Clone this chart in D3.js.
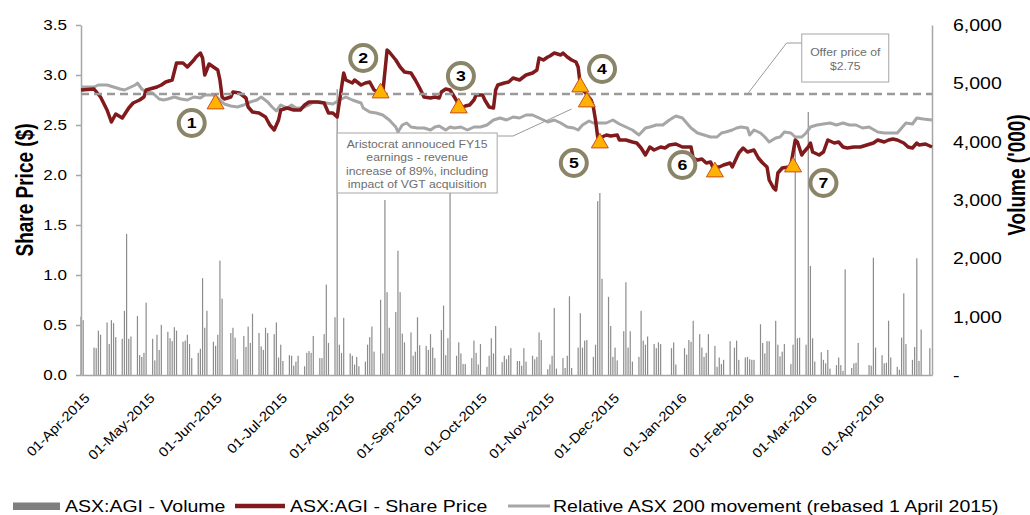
<!DOCTYPE html>
<html>
<head>
<meta charset="utf-8">
<script src="https://cdn.jsdelivr.net/npm/d3@7"></script>
<style>
  body { margin: 0; background: #fff; }
  svg text { font-family: "Liberation Sans", Arial, sans-serif; }
</style>
</head>
<body>
<svg id="chart" width="1030" height="515"></svg>
<script>
// DATA
var dateRange = ["2015-04-01", "2016-04-27"];
var monthTicks = ["2015-04-01", "2015-05-01", "2015-06-01", "2015-07-01", "2015-08-01", "2015-09-01",
  "2015-10-01", "2015-11-01", "2015-12-01", "2016-01-01", "2016-02-01", "2016-03-01", "2016-04-01"];
var priceTicks = [0, 0.5, 1.0, 1.5, 2.0, 2.5, 3.0, 3.5];
var volumeTicks = [0, 1000, 2000, 3000, 4000, 5000, 6000];
var offerPrice = 2.81; // dashed line as drawn

// volume ('000), runs of consecutive trading days: [first day, values]
var volumeRuns = [
  ["2015-04-01", [1000, 940]],
  ["2015-04-07", [470, 460, 760, 690]],
  ["2015-04-13", [900, 530, 940, 890, 650]],
  ["2015-04-20", [620, 1100, 2420, 620, 660]],
  ["2015-04-27", [1010, 340, 310, 380, 1240]],
  ["2015-05-04", [620, 250, 690, 430, 860]],
  ["2015-05-11", [740, 630, 580, 820, 760]],
  ["2015-05-18", [570, 590, 690, 530, 290]],
  ["2015-05-25", [380, 450, 1660, 810, 1100]],
  ["2015-06-01", [570, 500, 690, 1960, 1310]],
  ["2015-06-09", [720, 810, 640, 270]],
  ["2015-06-15", [670, 480, 830, 550, 1050]],
  ["2015-06-22", [720, 490, 430, 810, 720]],
  ["2015-06-29", [700, 900, 300, 520, 240]],
  ["2015-07-06", [340, 330, 160, 230, 330]],
  ["2015-07-13", [150, 380, 410, 380, 670]],
  ["2015-07-20", [290, 290, 700, 1550, 550]],
  ["2015-07-27", [990, 4900, 520, 380, 980]],
  ["2015-08-03", [370, 330, 180, 310, 150]],
  ["2015-08-10", [230, 520, 650, 830, 400]],
  ["2015-08-17", [1290, 370, 3000, 1420, 810]],
  ["2015-08-24", [1080, 2130, 1420, 710, 560]],
  ["2015-08-31", [730, 330, 400, 990, 510]],
  ["2015-09-07", [500, 430, 700, 470, 290]],
  ["2015-09-14", [770, 1190, 340, 630, 3300]],
  ["2015-09-21", [330, 560, 370, 190, 190]],
  ["2015-09-28", [290, 590, 380, 180, 530]],
  ["2015-10-05", [140, 330, 630, 370, 840]],
  ["2015-10-12", [220, 330, 270, 340, 460]],
  ["2015-10-19", [240, 240, 160, 460, 230]],
  ["2015-10-26", [330, 270, 310, 730, 600]],
  ["2015-11-02", [100, 180, 330, 1150, 110]],
  ["2015-11-09", [290, 120, 330, 1350, 120]],
  ["2015-11-16", [470, 1060, 470, 590, 600]],
  ["2015-11-23", [310, 520, 2980, 3120, 1650]],
  ["2015-11-30", [1340, 840, 310, 470, 250]],
  ["2015-12-07", [750, 1590, 470, 750, 230]],
  ["2015-12-14", [310, 1100, 590, 520, 660]],
  ["2015-12-21", [530, 460, 560, 530]],
  ["2015-12-29", [460, 560, 180]],
  ["2016-01-04", [460, 350, 600, 570, 930]],
  ["2016-01-11", [700, 470, 310, 380, 700]],
  ["2016-01-18", [500, 140, 300, 190, 260]],
  ["2016-01-25", [580]],
  ["2016-01-27", [470, 590, 260]],
  ["2016-02-01", [300, 310, 270, 260, 260]],
  ["2016-02-08", [870, 550, 370, 580, 580]],
  ["2016-02-15", [930, 520, 320, 400, 530]],
  ["2016-02-22", [190, 520, 3940, 630, 640]],
  ["2016-02-29", [520, 4510, 1870, 630, 230]],
  ["2016-03-07", [390, 260, 200, 430, 110]],
  ["2016-03-14", [170, 300, 170, 70, 1810]],
  ["2016-03-21", [120, 200, 210, 550]],
  ["2016-03-29", [170, 160, 2010, 470]],
  ["2016-04-04", [340, 200, 210, 930, 300]],
  ["2016-04-11", [140, 90, 640, 1400, 530]],
  ["2016-04-18", [260, 480, 2000, 240, 780]],
  ["2016-04-26", [460]]
];

// ASX:AGI share price ($)
var sharePrice = [
  ["2015-04-01", 2.85], ["2015-04-07", 2.86], ["2015-04-10", 2.78], ["2015-04-13", 2.65], ["2015-04-15", 2.53],
  ["2015-04-17", 2.61], ["2015-04-20", 2.57], ["2015-04-23", 2.67], ["2015-04-25", 2.72], ["2015-04-28", 2.75],
  ["2015-04-30", 2.78], ["2015-05-01", 2.85], ["2015-05-06", 2.88], ["2015-05-08", 2.90], ["2015-05-10", 2.93],
  ["2015-05-13", 2.95], ["2015-05-15", 3.12], ["2015-05-18", 3.12], ["2015-05-20", 3.08], ["2015-05-23", 3.15],
  ["2015-05-24", 3.18], ["2015-05-26", 3.22], ["2015-05-27", 3.17], ["2015-05-28", 3.00], ["2015-05-30", 3.11],
  ["2015-06-01", 3.08], ["2015-06-03", 3.05], ["2015-06-04", 2.95], ["2015-06-05", 2.78], ["2015-06-06", 2.76],
  ["2015-06-09", 2.78], ["2015-06-10", 2.83], ["2015-06-13", 2.82], ["2015-06-16", 2.77], ["2015-06-17", 2.68],
  ["2015-06-19", 2.63], ["2015-06-22", 2.62], ["2015-06-25", 2.58], ["2015-06-27", 2.50], ["2015-06-29", 2.45],
  ["2015-07-01", 2.55], ["2015-07-02", 2.65], ["2015-07-05", 2.67], ["2015-07-08", 2.65], ["2015-07-11", 2.65],
  ["2015-07-13", 2.70], ["2015-07-15", 2.73], ["2015-07-19", 2.73], ["2015-07-22", 2.72], ["2015-07-24", 2.62],
  ["2015-07-26", 2.62], ["2015-07-28", 2.58], ["2015-07-31", 3.02], ["2015-08-01", 2.95], ["2015-08-04", 2.92],
  ["2015-08-05", 2.95], ["2015-08-08", 2.90], ["2015-08-10", 2.92], ["2015-08-12", 2.93], ["2015-08-14", 2.85],
  ["2015-08-16", 2.83], ["2015-08-18", 2.82], ["2015-08-20", 3.25], ["2015-08-21", 3.23], ["2015-08-24", 3.15],
  ["2015-08-26", 3.08], ["2015-08-28", 3.03], ["2015-08-31", 3.02], ["2015-09-02", 2.95], ["2015-09-04", 2.87],
  ["2015-09-06", 2.78], ["2015-09-09", 2.77], ["2015-09-11", 2.78], ["2015-09-13", 2.77], ["2015-09-14", 2.83],
  ["2015-09-16", 2.86], ["2015-09-18", 2.85], ["2015-09-20", 2.78], ["2015-09-23", 2.67], ["2015-09-25", 2.69],
  ["2015-09-27", 2.70], ["2015-09-29", 2.75], ["2015-09-30", 2.80], ["2015-10-03", 2.80], ["2015-10-04", 2.75],
  ["2015-10-06", 2.68], ["2015-10-08", 2.67], ["2015-10-09", 2.85], ["2015-10-10", 2.90], ["2015-10-13", 2.92],
  ["2015-10-15", 2.93], ["2015-10-17", 2.97], ["2015-10-20", 2.95], ["2015-10-23", 3.00], ["2015-10-26", 3.02],
  ["2015-10-28", 3.05], ["2015-10-29", 3.17], ["2015-10-31", 3.15], ["2015-11-02", 3.18], ["2015-11-03", 3.19],
  ["2015-11-05", 3.22], ["2015-11-08", 3.20], ["2015-11-09", 3.22], ["2015-11-11", 3.18], ["2015-11-13", 3.15],
  ["2015-11-15", 3.13], ["2015-11-16", 3.08], ["2015-11-17", 2.90], ["2015-11-19", 2.83], ["2015-11-22", 2.75],
  ["2015-11-23", 2.68], ["2015-11-24", 2.55], ["2015-11-25", 2.38], ["2015-11-27", 2.38], ["2015-11-29", 2.40],
  ["2015-12-01", 2.39], ["2015-12-04", 2.40], ["2015-12-05", 2.35], ["2015-12-08", 2.35], ["2015-12-11", 2.33],
  ["2015-12-13", 2.32], ["2015-12-15", 2.27], ["2015-12-17", 2.20], ["2015-12-19", 2.28], ["2015-12-21", 2.25],
  ["2015-12-24", 2.28], ["2015-12-26", 2.27], ["2015-12-28", 2.30], ["2015-12-31", 2.31], ["2016-01-03", 2.28],
  ["2016-01-07", 2.28], ["2016-01-08", 2.17], ["2016-01-10", 2.15], ["2016-01-12", 2.16], ["2016-01-14", 2.12],
  ["2016-01-16", 2.13], ["2016-01-17", 2.08], ["2016-01-20", 2.08], ["2016-01-22", 2.10], ["2016-01-25", 2.12],
  ["2016-01-26", 2.08], ["2016-01-29", 2.22], ["2016-01-31", 2.27], ["2016-02-02", 2.23], ["2016-02-05", 2.25],
  ["2016-02-07", 2.17], ["2016-02-09", 2.12], ["2016-02-11", 2.08], ["2016-02-12", 1.95], ["2016-02-14", 1.87],
  ["2016-02-15", 1.85], ["2016-02-16", 2.02], ["2016-02-18", 2.07], ["2016-02-21", 2.08], ["2016-02-22", 2.10],
  ["2016-02-24", 2.35], ["2016-02-25", 2.33], ["2016-02-27", 2.20], ["2016-02-28", 2.23], ["2016-03-01", 2.28],
  ["2016-03-02", 2.32], ["2016-03-03", 2.23], ["2016-03-06", 2.20], ["2016-03-08", 2.23], ["2016-03-10", 2.35],
  ["2016-03-13", 2.32], ["2016-03-15", 2.33], ["2016-03-17", 2.28], ["2016-03-19", 2.27], ["2016-03-22", 2.28],
  ["2016-03-25", 2.28], ["2016-03-28", 2.30], ["2016-03-31", 2.32], ["2016-04-02", 2.35], ["2016-04-05", 2.33],
  ["2016-04-07", 2.35], ["2016-04-09", 2.36], ["2016-04-11", 2.35], ["2016-04-14", 2.32], ["2016-04-16", 2.28],
  ["2016-04-18", 2.27], ["2016-04-20", 2.32], ["2016-04-21", 2.30], ["2016-04-24", 2.31], ["2016-04-27", 2.28]
];

// relative ASX 200 movement, rebased to the share price on 1 April 2015
var asx200 = [
  ["2015-04-01", 2.88], ["2015-04-07", 2.88], ["2015-04-09", 2.90], ["2015-04-13", 2.90], ["2015-04-16", 2.88],
  ["2015-04-19", 2.86], ["2015-04-21", 2.85], ["2015-04-24", 2.88], ["2015-04-26", 2.90], ["2015-04-27", 2.92],
  ["2015-04-29", 2.86], ["2015-05-01", 2.83], ["2015-05-04", 2.82], ["2015-05-07", 2.76], ["2015-05-09", 2.75],
  ["2015-05-11", 2.76], ["2015-05-14", 2.78], ["2015-05-17", 2.76], ["2015-05-20", 2.75], ["2015-05-23", 2.78],
  ["2015-05-26", 2.77], ["2015-05-28", 2.80], ["2015-06-01", 2.80], ["2015-06-03", 2.77], ["2015-06-06", 2.71],
  ["2015-06-09", 2.69], ["2015-06-12", 2.68], ["2015-06-15", 2.70], ["2015-06-18", 2.73], ["2015-06-21", 2.75],
  ["2015-06-23", 2.78], ["2015-06-26", 2.73], ["2015-06-28", 2.68], ["2015-06-30", 2.64], ["2015-07-02", 2.70],
  ["2015-07-05", 2.67], ["2015-07-07", 2.70], ["2015-07-09", 2.67], ["2015-07-12", 2.67], ["2015-07-15", 2.70],
  ["2015-07-17", 2.73], ["2015-07-20", 2.73], ["2015-07-23", 2.72], ["2015-07-26", 2.71], ["2015-07-29", 2.75],
  ["2015-08-01", 2.78], ["2015-08-04", 2.75], ["2015-08-08", 2.72], ["2015-08-09", 2.67], ["2015-08-12", 2.63],
  ["2015-08-15", 2.62], ["2015-08-18", 2.60], ["2015-08-21", 2.55], ["2015-08-24", 2.48], ["2015-08-25", 2.43],
  ["2015-08-27", 2.50], ["2015-08-29", 2.52], ["2015-08-31", 2.48], ["2015-09-03", 2.47], ["2015-09-06", 2.47],
  ["2015-09-09", 2.45], ["2015-09-11", 2.48], ["2015-09-13", 2.49], ["2015-09-16", 2.45], ["2015-09-18", 2.48],
  ["2015-09-20", 2.47], ["2015-09-23", 2.48], ["2015-09-26", 2.45], ["2015-09-29", 2.48], ["2015-10-02", 2.48],
  ["2015-10-05", 2.50], ["2015-10-08", 2.55], ["2015-10-11", 2.57], ["2015-10-14", 2.55], ["2015-10-17", 2.58],
  ["2015-10-20", 2.57], ["2015-10-23", 2.60], ["2015-10-26", 2.60], ["2015-10-29", 2.57], ["2015-11-02", 2.53],
  ["2015-11-05", 2.55], ["2015-11-08", 2.52], ["2015-11-11", 2.48], ["2015-11-14", 2.47], ["2015-11-16", 2.45],
  ["2015-11-18", 2.50], ["2015-11-21", 2.54], ["2015-11-23", 2.52], ["2015-11-26", 2.52], ["2015-11-29", 2.52],
  ["2015-12-02", 2.55], ["2015-12-05", 2.51], ["2015-12-08", 2.48], ["2015-12-11", 2.45], ["2015-12-14", 2.40],
  ["2015-12-17", 2.47], ["2015-12-19", 2.48], ["2015-12-22", 2.50], ["2015-12-25", 2.50], ["2015-12-28", 2.55],
  ["2015-12-31", 2.59], ["2016-01-03", 2.57], ["2016-01-07", 2.47], ["2016-01-10", 2.42], ["2016-01-13", 2.40],
  ["2016-01-16", 2.38], ["2016-01-19", 2.38], ["2016-01-21", 2.42], ["2016-01-23", 2.43], ["2016-01-26", 2.45],
  ["2016-01-28", 2.47], ["2016-01-30", 2.48], ["2016-02-02", 2.47], ["2016-02-03", 2.40], ["2016-02-05", 2.45],
  ["2016-02-08", 2.42], ["2016-02-10", 2.38], ["2016-02-12", 2.33], ["2016-02-15", 2.37], ["2016-02-17", 2.38],
  ["2016-02-19", 2.43], ["2016-02-22", 2.42], ["2016-02-24", 2.38], ["2016-02-27", 2.38], ["2016-02-29", 2.42],
  ["2016-03-02", 2.48], ["2016-03-05", 2.50], ["2016-03-08", 2.51], ["2016-03-11", 2.52], ["2016-03-14", 2.50],
  ["2016-03-17", 2.52], ["2016-03-20", 2.50], ["2016-03-23", 2.50], ["2016-03-26", 2.47], ["2016-03-29", 2.48],
  ["2016-04-02", 2.43], ["2016-04-05", 2.42], ["2016-04-08", 2.42], ["2016-04-11", 2.42], ["2016-04-13", 2.47],
  ["2016-04-15", 2.52], ["2016-04-18", 2.51], ["2016-04-20", 2.57], ["2016-04-23", 2.56], ["2016-04-27", 2.55]
];

// event markers (triangles) and numbered call-outs, in data units
var eventMarkers = [
  ["2015-06-02", 2.71], ["2015-08-17", 2.82], ["2015-09-22", 2.67], ["2015-11-17", 2.88],
  ["2015-11-20", 2.73], ["2015-11-26", 2.32], ["2016-01-18", 2.03], ["2016-02-23", 2.08]
];
var eventLabels = [
  ["1", "2015-05-22", 2.52], ["2", "2015-08-09", 3.17], ["3", "2015-09-23", 2.99], ["4", "2015-11-27", 3.06],
  ["5", "2015-11-14", 2.12], ["6", "2016-01-03", 2.10], ["7", "2016-03-08", 1.92]
];
var seriesNames = ["ASX:AGI - Volume", "ASX:AGI - Share Price", "Relative ASX 200 movement (rebased 1 April 2015)"];
var offerNote = ["Offer price of", "$2.75"];
var resultsNote = ["Aristocrat annouced FY15", "earnings - revenue", "increase of 89%, including", "impact of VGT acquisition"];

// SETUP
var parse = d3.timeParse("%Y-%m-%d");
var SX = 1.22; // text in the reference is drawn wide
var svg = d3.select("#chart");
var plot = { left: 81, right: 932, top: 25, bottom: 375 };

var x = d3.scaleTime().domain(dateRange.map(parse)).range([plot.left, plot.right]);
var yL = d3.scaleLinear().domain([0, 3.5]).range([plot.bottom, plot.top]);
var yR = d3.scaleLinear().domain([0, 6000]).range([plot.bottom, plot.top]);

var volume = [];
volumeRuns.forEach(function (r) {
  var d0 = parse(r[0]);
  r[1].forEach(function (v, i) { volume.push({ date: d3.timeDay.offset(d0, i), v: v }); });
});
function toPts(arr) { return arr.map(function (d) { return { date: parse(d[0]), v: d[1] }; }); }

function wide(sel, tx, ty, rot) {
  sel.attr("transform", "translate(" + tx + "," + ty + ") scale(" + SX + ",1)" + (rot ? " rotate(" + rot + ")" : ""));
}

// VOLUME BARS
svg.append("g").selectAll("rect")
  .data(volume)
  .enter().append("rect")
  .attr("x", function (d) { return x(d.date) - 0.6; })
  .attr("width", 1.2)
  .attr("y", function (d) { return yR(d.v); })
  .attr("height", function (d) { return yR(0) - yR(d.v); })
  .attr("fill", "#8c8c8c");

// AXES
var gL = svg.append("g").attr("transform", "translate(" + plot.left + ",0)")
  .call(d3.axisLeft(yL).tickValues(priceTicks).tickSize(5).tickSizeOuter(0).tickFormat(d3.format(".1f")));
gL.select(".domain").attr("stroke", "#a6a6a6").attr("stroke-width", 1.5);
gL.selectAll(".tick line").attr("stroke", "#a6a6a6").attr("stroke-width", 1.5);
gL.selectAll(".tick text").attr("x", null).attr("dy", "0.35em").attr("fill", "#000")
  .style("font-size", "14px").each(function () { wide(d3.select(this), -14, 0); });

var gR = svg.append("g").attr("transform", "translate(" + plot.right + ",0)")
  .call(d3.axisRight(yR).tickValues(volumeTicks).tickSize(0).tickSizeOuter(0)
    .tickFormat(function (d) { return d === 0 ? "-" : d3.format(",")(d); }));
gR.select(".domain").attr("stroke", "#a6a6a6").attr("stroke-width", 1.5);
gR.selectAll(".tick text").attr("x", null).attr("dy", "0.35em").attr("fill", "#000")
  .style("font-size", "16px").each(function () { wide(d3.select(this), 21, 0); });

// date labels: true 45 degree slant, glyphs drawn wide along the text
var gB = svg.append("g").attr("transform", "translate(0," + plot.bottom + ")")
  .call(d3.axisBottom(x).tickValues(monthTicks.map(parse)).tickSize(0).tickSizeOuter(0)
    .tickFormat(d3.timeFormat("%d-%b-%Y")));
gB.select(".domain").attr("stroke", "#a6a6a6").attr("stroke-width", 1.5);
gB.selectAll(".tick text").attr("y", null).attr("dy", null).attr("fill", "#000")
  .attr("text-anchor", "end").style("font-size", "13.5px")
  .attr("transform", "translate(9,24) rotate(-45) scale(1.1,1)");

svg.append("text").attr("text-anchor", "middle").style("font-size", "19px").style("font-weight", "bold")
  .text("Share Price ($)").call(wide, 33, 190, -90);
svg.append("text").attr("text-anchor", "middle").style("font-size", "19px").style("font-weight", "bold")
  .text("Volume ('000)").call(wide, 1025, 175, -90);

// LINES
var line = d3.line().x(function (d) { return x(d.date); }).y(function (d) { return yL(d.v); });
svg.append("path").datum(toPts(asx200)).attr("d", line)
  .attr("fill", "none").attr("stroke", "#a6a6a6").attr("stroke-width", 3).attr("stroke-linejoin", "round");
svg.append("path").datum(toPts(sharePrice)).attr("d", line)
  .attr("fill", "none").attr("stroke", "#801a1c").attr("stroke-width", 3.5).attr("stroke-linejoin", "round");
svg.append("line")
  .attr("x1", x.range()[0]).attr("x2", x.range()[1])
  .attr("y1", yL(offerPrice)).attr("y2", yL(offerPrice))
  .attr("stroke", "#9a9a9a").attr("stroke-width", 2.5).attr("stroke-dasharray", "8,5");

// CALL-OUT BOXES
function note(lines, date, price, w, h, firstBase, step, leader) {
  var bx = x(parse(date)), by = yL(price);
  svg.append("path")
    .attr("d", d3.line()(leader.map(function (p) { return [x(parse(p[0])), yL(p[1])]; })))
    .attr("fill", "none").attr("stroke", "#9a9a9a").attr("stroke-width", 1);
  svg.append("rect").attr("x", bx).attr("y", by).attr("width", w).attr("height", h)
    .attr("fill", "#fff").attr("stroke", "#a6a6a6").attr("stroke-width", 1);
  lines.forEach(function (t, i) {
    svg.append("text").attr("text-anchor", "middle").attr("fill", "#6e6e6e").style("font-size", "10px")
      .text(t).call(wide, bx + w / 2, by + firstBase + i * step);
  });
}
note(offerNote, "2016-02-27", 3.41, 87, 48, 22, 13.5,
  [["2016-02-27", 3.32], ["2016-02-20", 3.32], ["2016-02-02", offerPrice]]);
note(resultsNote, "2015-07-28", 2.42, 160, 60, 14.5, 13.6,
  [["2015-10-10", 2.39], ["2015-10-17", 2.39], ["2015-11-13", 2.66]]);

// EVENTS
svg.append("g").selectAll("path")
  .data(eventMarkers)
  .enter().append("path")
  .attr("d", d3.symbol().type(d3.symbolTriangle).size(125))
  .attr("transform", function (d) { return "translate(" + x(parse(d[0])) + "," + yL(d[1]) + ")"; })
  .attr("fill", "#ffb300").attr("stroke", "#c8501e").attr("stroke-width", 1);

var lab = svg.append("g").selectAll("g")
  .data(eventLabels)
  .enter().append("g")
  .attr("transform", function (d) { return "translate(" + x(parse(d[1])) + "," + yL(d[2]) + ")"; });
lab.append("circle").attr("r", 13).attr("fill", "#fff").attr("stroke", "#8a8468").attr("stroke-width", 4);
lab.append("text").attr("text-anchor", "middle").attr("dy", "0.36em")
  .style("font-size", "14.5px").style("font-weight", "bold").attr("fill", "#000")
  .attr("transform", "scale(" + SX + ",1)")
  .text(function (d) { return d[0]; });

// LEGEND
var legendLayout = [{ sx: 13, sw: 47, tx: 65 }, { sx: 235, sw: 50, tx: 290 }, { sx: 508, sw: 42, tx: 553 }];
var ly = 506;
svg.append("rect").attr("x", legendLayout[0].sx).attr("y", ly - 3.5).attr("width", legendLayout[0].sw)
  .attr("height", 7.5).attr("fill", "#7f7f7f");
svg.append("line").attr("x1", legendLayout[1].sx).attr("x2", legendLayout[1].sx + legendLayout[1].sw)
  .attr("y1", ly).attr("y2", ly).attr("stroke", "#801a1c").attr("stroke-width", 4.5);
svg.append("line").attr("x1", legendLayout[2].sx).attr("x2", legendLayout[2].sx + legendLayout[2].sw)
  .attr("y1", ly).attr("y2", ly).attr("stroke", "#a6a6a6").attr("stroke-width", 3);
seriesNames.forEach(function (name, i) {
  svg.append("text").style("font-size", "16px").attr("fill", "#000")
    .text(name).call(wide, legendLayout[i].tx, ly + 6);
});
</script>
</body>
</html>
